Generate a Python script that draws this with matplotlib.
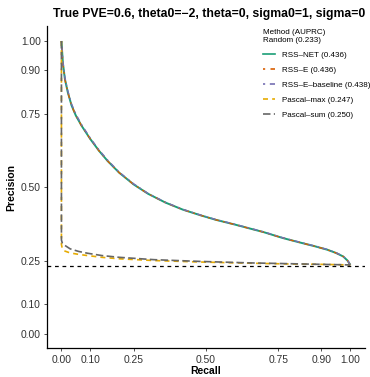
import matplotlib
matplotlib.use("Agg")
import matplotlib.pyplot as plt
from matplotlib.lines import Line2D

plt.rcParams['font.family'] = ['Liberation Sans', 'DejaVu Sans']

title = "True PVE=0.6, theta0=\u22122, theta=0, sigma0=1, sigma=0"
random_prec = 0.233

methods = ["RSS\u2013NET", "RSS\u2013E", "RSS\u2013E\u2013baseline", "Pascal\u2013max", "Pascal\u2013sum"]
auprc = [0.436, 0.436, 0.438, 0.247, 0.250]
colors = ["#1B9E77", "#D95F02", "#7570B3", "#E6AB02", "#666666"]

rss_net_recall = [0, 0.005, 0.012, 0.022, 0.035, 0.05, 0.07, 0.1, 0.13, 0.16, 0.2, 0.25, 0.3, 0.36,
                  0.42, 0.48, 0.535, 0.6, 0.65, 0.7, 0.766, 0.82, 0.88, 0.92, 0.95, 0.975, 0.99, 1.0]
rss_net_prec = [1.0, 0.925, 0.87, 0.825, 0.78, 0.745, 0.71, 0.665, 0.625, 0.59, 0.55, 0.51, 0.478, 0.448,
                0.424, 0.405, 0.389, 0.373, 0.36, 0.347, 0.327, 0.313, 0.298, 0.287, 0.276, 0.264, 0.25, 0.235]

rss_e_recall = [0, 0.005, 0.012, 0.022, 0.035, 0.05, 0.07, 0.1, 0.13, 0.16, 0.2, 0.25, 0.3, 0.36,
                0.42, 0.48, 0.535, 0.6, 0.65, 0.7, 0.766, 0.82, 0.88, 0.92, 0.95, 0.975, 0.99, 1.0]
rss_e_prec = [1.0, 0.924, 0.869, 0.825, 0.78, 0.745, 0.71, 0.665, 0.625, 0.59, 0.55, 0.51, 0.478, 0.448,
              0.424, 0.405, 0.389, 0.373, 0.36, 0.347, 0.327, 0.313, 0.298, 0.287, 0.276, 0.264, 0.25, 0.235]

rss_base_recall = [0, 0.005, 0.012, 0.022, 0.035, 0.05, 0.07, 0.1, 0.13, 0.16, 0.2, 0.25, 0.3, 0.36,
                   0.42, 0.48, 0.535, 0.6, 0.65, 0.7, 0.766, 0.82, 0.88, 0.92, 0.95, 0.975, 0.99, 1.0]
rss_base_prec = [1.0, 0.93, 0.875, 0.83, 0.785, 0.75, 0.714, 0.668, 0.628, 0.593, 0.552, 0.512, 0.479, 0.449,
                 0.425, 0.406, 0.39, 0.374, 0.361, 0.348, 0.328, 0.314, 0.299, 0.288, 0.277, 0.265, 0.251, 0.235]

pmax_recall = [0, 0, 0.003, 0.01, 0.03, 0.06, 0.09, 0.14, 0.2, 0.32, 0.48, 0.65, 0.8, 0.9, 1.0]
pmax_prec = [1.0, 0.305, 0.29, 0.283, 0.276, 0.271, 0.267, 0.261, 0.256, 0.25, 0.245, 0.241, 0.238, 0.237, 0.235]

psum_recall = [0, 0, 0.003, 0.01, 0.03, 0.06, 0.09, 0.14, 0.2, 0.32, 0.48, 0.65, 0.8, 0.9, 1.0]
psum_prec = [1.0, 0.32, 0.31, 0.303, 0.29, 0.281, 0.275, 0.267, 0.261, 0.253, 0.247, 0.242, 0.239, 0.237, 0.235]

xticks = [0.00, 0.10, 0.25, 0.50, 0.75, 0.90, 1.00]
yticks = [0.00, 0.10, 0.25, 0.50, 0.75, 0.90, 1.00]

curves = [(rss_net_recall, rss_net_prec), (rss_e_recall, rss_e_prec), (rss_base_recall, rss_base_prec),
          (pmax_recall, pmax_prec), (psum_recall, psum_prec)]
dashes = [None, (1.3, 3.2, 3.5, 3.2), (1.3, 2.8, 3.5, 2.8), (3, 2.5), (4.5, 2)]
widths = [1.4, 1.0, 1.0, 1.2, 1.2]

fig = plt.figure(figsize=(3.70, 3.77), dpi=100)
ax = fig.add_axes([0.127, 0.076, 0.859, 0.854])

handles = []
for (r, p), c, d, w, m, a in zip(curves, colors, dashes, widths, methods, auprc):
    if d is None:
        ax.plot(r, p, color=c, lw=w, solid_capstyle='butt')
        h = Line2D([0], [0], color=c, lw=1.2, label=f"{m} ({a:.3f})")
    else:
        ax.plot(r, p, color=c, lw=w, dashes=d, dash_capstyle='butt')
        h = Line2D([0], [0], color=c, lw=1.2, dashes=d, label=f"{m} ({a:.3f})")
    handles.append(h)

ax.axhline(random_prec, color='black', lw=0.9, dashes=(3, 3))

ax.set_xlim(-0.05, 1.05)
ax.set_ylim(-0.05, 1.05)
ax.set_xticks(xticks)
ax.set_yticks(yticks)
ax.set_xticklabels([f"{v:.2f}" for v in xticks], fontsize=7.4, color='#333333')
ax.set_yticklabels([f"{v:.2f}" for v in yticks], fontsize=7.4, color='#333333')
ax.tick_params(length=2.5, width=0.6, color='#333333', pad=2)
for s in ['top', 'right']:
    ax.spines[s].set_visible(False)
for s in ['left', 'bottom']:
    ax.spines[s].set_linewidth(0.9)
ax.set_xlabel("Recall", fontsize=7.5, fontweight='bold', labelpad=1)
ax.set_ylabel("Precision", fontsize=7.5, fontweight='bold', labelpad=3)
fig.suptitle(title, fontsize=8.8, fontweight='bold', x=0.565, y=0.978)

leg = fig.legend(handles=handles, title=f"Method (AUPRC)\nRandom ({random_prec:.3f})",
                 loc='upper left', bbox_to_anchor=(0.703, 0.931), frameon=False,
                 fontsize=5.8, title_fontsize=5.8, handlelength=1.5, handletextpad=0.8,
                 labelspacing=0.9, borderaxespad=0)
leg._legend_box.align = "left"

fig.savefig("out.png", dpi=100)
